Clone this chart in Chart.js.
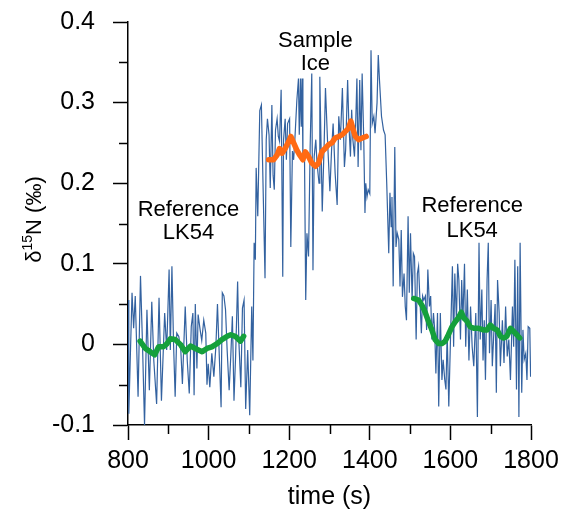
<!DOCTYPE html>
<html>
<head>
<meta charset="utf-8">
<script src="https://cdn.jsdelivr.net/npm/chart.js@4"></script>
<style>
html,body{margin:0;padding:0;background:#fff;}
canvas{display:block;}
</style>
</head>
<body>
<canvas id="c" width="562" height="515"></canvas>
<script>
// ---- data ----
const blueTime = [800,802,810,814,818,825,831,836,841,847,853,859,864,871,877,883,891,896,902,905,909,913,917,921,926,931,935,942,947,952,957,961,964,967,971,974,979,983,988,993,996,999,1003,1008,1013,1018,1022,1026,1031,1034,1038,1042,1046,1051,1055,1059,1063,1067,1072,1075,1080,1084,1088,1092,1097,1102,1107,1110,1113,1116,1118,1122,1127,1131,1135,1140,1143,1146,1150,1153,1157,1160,1163,1166,1170,1173,1176,1180,1184,1186,1190,1193,1196,1201,1204,1208,1211,1214,1219,1223,1225,1228,1230,1232,1234,1238,1241,1244,1248,1252,1256,1259,1262,1266,1269,1274,1276,1282,1287,1290,1295,1301,1305,1309,1314,1319,1323,1327,1332,1337,1340,1345,1348,1352,1355,1358,1362,1365,1368,1371,1375,1378,1381,1385,1388,1390,1393,1396,1400,1403,1406,1410,1413,1418,1421,1424,1429,1434,1438,1442,1447,1450,1453,1455,1458,1462,1465,1468,1472,1475,1478,1481,1485,1488,1491,1495,1498,1501,1505,1508,1511,1515,1518,1521,1524,1528,1531,1534,1538,1541,1544,1548,1551,1554,1558,1561,1564,1568,1571,1575,1579,1582,1586,1589,1592,1596,1601,1605,1608,1611,1615,1618,1621,1625,1628,1631,1635,1638,1642,1646,1650,1654,1658,1663,1667,1671,1674,1678,1681,1684,1687,1691,1694,1697,1701,1704,1707,1711,1714,1717,1721,1724,1729,1733,1737,1741,1745,1749,1754,1757,1760,1764,1767,1770,1773,1777,1780,1783,1787,1790,1793,1797,1799];
const blueValue = [0.055,-0.086,0.064,0.02,0.06,-0.065,0.085,0.0,-0.1,0.043,-0.057,0.053,-0.02,-0.074,0.058,-0.07,0.039,-0.007,0.093,-0.007,0.097,0.001,-0.065,0.014,0.01,-0.007,-0.049,0.047,-0.02,-0.061,0.022,0.039,-0.063,0.05,-0.03,0.037,0.018,0.005,0.03,0.014,-0.05,-0.024,-0.053,-0.011,-0.04,-0.003,0.05,-0.007,-0.078,0.064,0.06,0.043,-0.007,-0.057,-0.015,0.035,-0.07,-0.015,0.078,0.005,-0.053,0.045,0.055,-0.08,-0.007,-0.088,0.047,-0.02,0.126,0.105,0.219,0.159,0.29,0.297,0.2,0.082,0.254,0.28,0.26,0.194,0.297,0.21,0.192,0.266,0.28,0.258,0.252,0.316,0.084,0.254,0.28,0.229,0.274,0.28,0.121,0.24,0.229,0.254,0.303,0.33,0.26,0.33,0.27,0.33,0.233,0.231,0.055,0.138,0.109,0.245,0.336,0.092,0.233,0.254,0.225,0.2,0.332,0.165,0.254,0.318,0.254,0.19,0.24,0.274,0.212,0.173,0.283,0.254,0.318,0.22,0.241,0.328,0.274,0.233,0.291,0.254,0.233,0.274,0.33,0.22,0.328,0.241,0.336,0.254,0.163,0.2,0.183,0.192,0.187,0.365,0.274,0.283,0.262,0.3,0.359,0.328,0.283,0.266,0.26,0.2,0.113,0.188,0.146,0.183,0.072,0.245,0.121,0.138,0.13,0.072,0.142,0.059,0.088,0.047,0.03,0.159,0.064,0.138,0.055,0.113,0.109,0.006,0.088,0.097,0.06,0.014,0.06,0.055,0.06,0.018,0.093,0.047,0.06,0.006,0.039,0.018,-0.036,0.039,-0.077,0.039,-0.044,-0.019,-0.044,-0.056,0.014,-0.077,0.022,0.097,-0.003,0.088,0.03,0.1,0.08,0.006,0.08,0.03,0.1,-0.003,0.068,-0.02,0.047,-0.003,-0.027,0.039,-0.09,0.126,0.006,0.068,-0.02,0.03,-0.044,0.08,0.126,-0.011,0.055,-0.027,0.006,0.05,-0.06,0.08,0.039,-0.027,0.03,-0.023,0.047,-0.015,0.006,-0.044,0.047,-0.003,0.105,-0.056,0.097,-0.09,0.126,-0.06,0.018,-0.019,-0.011,-0.044,0.022,0.02,-0.04];

const refATime = [830,843,855,866,876,888,897,905,917,930,942,955,967,984,996,1008,1021,1033,1046,1055,1066,1079,1087];
const refAValue = [0.004,-0.005,-0.009,-0.013,-0.003,-0.003,0.001,0.007,0.006,0.0,-0.009,-0.002,-0.005,-0.009,-0.005,-0.003,0.001,0.006,0.01,0.012,0.01,0.004,0.01];

const sampleTime = [1149,1161,1170,1176,1182,1190,1199,1204,1211,1219,1226,1234,1240,1248,1256,1265,1273,1281,1289,1298,1306,1314,1323,1331,1339,1347,1353,1358,1364,1372,1381,1391];
const sampleValue = [0.229,0.229,0.235,0.243,0.237,0.243,0.252,0.258,0.25,0.241,0.235,0.229,0.239,0.233,0.225,0.221,0.225,0.239,0.243,0.248,0.25,0.256,0.258,0.26,0.264,0.268,0.277,0.268,0.258,0.254,0.256,0.258];

const refBTime = [1509,1521,1529,1538,1546,1554,1562,1571,1579,1587,1595,1604,1612,1620,1627,1633,1641,1649,1658,1670,1682,1691,1699,1707,1716,1724,1732,1740,1749,1757,1765,1772];
const refBValue = [0.057,0.055,0.049,0.039,0.028,0.018,0.006,0.001,0.001,0.004,0.012,0.022,0.028,0.033,0.04,0.033,0.029,0.022,0.02,0.02,0.018,0.018,0.024,0.02,0.018,0.01,0.008,0.01,0.02,0.016,0.012,0.008];

const xTicksMajor = [800,1000,1200,1400,1600,1800];
const xTicksMinor = [900,1100,1300,1500,1700];
const yTicksMinor = [-0.05,0.05,0.15,0.25,0.35];

const labels = [
  {lines:['Sample','Ice'], t:1265, v:[0.377,0.348]},
  {lines:['Reference','LK54'], t:950, v:[0.167,0.138]},
  {lines:['Reference','LK54'], t:1654, v:[0.172,0.141]}
];

const toXY = (ts, vs) => ts.map((t,i)=>({x:t, y:vs[i]}));

const FONT = '"Liberation Sans", Arial, sans-serif';

const decorPlugin = {
  id:'decor',
  afterDraw(chart){
    const ctx = chart.ctx, xs = chart.scales.x, ys = chart.scales.y, ca = chart.chartArea;
    ctx.save();
    ctx.strokeStyle = '#000'; ctx.lineWidth = 1.5;
    xTicksMinor.forEach(v=>{
      const p = Math.round(xs.getPixelForValue(v))+0.5;
      ctx.beginPath(); ctx.moveTo(p, ca.bottom); ctx.lineTo(p, ca.bottom+9); ctx.stroke();
    });
    yTicksMinor.forEach(v=>{
      const p = Math.round(ys.getPixelForValue(v))+0.5;
      ctx.beginPath(); ctx.moveTo(ca.left-9, p); ctx.lineTo(ca.left, p); ctx.stroke();
    });
    // annotations
    ctx.fillStyle = '#000';
    ctx.font = '22px ' + FONT;
    ctx.textAlign = 'center'; ctx.textBaseline = 'middle';
    labels.forEach(l=>{
      l.lines.forEach((s,i)=>{
        ctx.fillText(s, xs.getPixelForValue(l.t), ys.getPixelForValue(l.v[i]));
      });
    });
    // x title
    ctx.font = '25px ' + FONT;
    ctx.fillText('time (s)', (ca.left+ca.right)/2, 497);
    // y title with superscript
    ctx.translate(33, (ca.top+ca.bottom)/2 - 4);
    ctx.rotate(-Math.PI/2);
    const big = '22px ' + FONT, small = '14px ' + FONT;
    ctx.font = big; const w1 = ctx.measureText('\u03B4').width;
    ctx.font = small; const w2 = ctx.measureText('15').width;
    ctx.font = big; const w3 = ctx.measureText('N (\u2030)').width;
    let x = -(w1+w2+w3)/2;
    ctx.textAlign = 'left';
    ctx.textBaseline = 'alphabetic';
    ctx.font = big; ctx.fillText('\u03B4', x, 8); x += w1;
    ctx.font = small; ctx.fillText('15', x, -1); x += w2;
    ctx.font = big; ctx.fillText('N (\u2030)', x, 8);
    ctx.restore();
  }
};

function noPad(s){ s.paddingTop = 0; s.paddingBottom = 0; s.paddingLeft = 0; s.paddingRight = 0; }

new Chart(document.getElementById('c'), {
  type:'line',
  data:{
    datasets:[
      {data:toXY(sampleTime, sampleValue), borderColor:'#ff6a13', borderWidth:5.5, pointRadius:0, borderCapStyle:'round', borderJoinStyle:'round', tension:0},
      {data:toXY(refATime, refAValue), borderColor:'#15a03c', borderWidth:5.5, pointRadius:0, borderCapStyle:'round', borderJoinStyle:'round', tension:0},
      {data:toXY(refBTime, refBValue), borderColor:'#15a03c', borderWidth:5.5, pointRadius:0, borderCapStyle:'round', borderJoinStyle:'round', tension:0},
      {data:toXY(blueTime, blueValue), borderColor:'#3362a0', borderWidth:1.2, pointRadius:0, tension:0}
    ]
  },
  options:{
    responsive:false,
    animation:false,
    devicePixelRatio:1,
    layout:{padding:{top:22,right:31,left:0,bottom:0}},
    plugins:{legend:{display:false}, tooltip:{enabled:false}},
    scales:{
      x:{
        type:'linear', min:800, max:1800,
        afterBuildTicks(s){ s.ticks = xTicksMajor.map(v=>({value:v})); },
        afterFit(s){ s.height = 90; noPad(s); },
        ticks:{font:{size:25, family:FONT}, color:'#000', padding:6, maxRotation:0, autoSkip:false,
          callback:v=>String(v)},
        grid:{drawOnChartArea:false, tickLength:15, tickColor:'#000', tickWidth:1.5, color:'#000'},
        border:{color:'#000', width:1.5}
      },
      y:{
        min:-0.1, max:0.4,
        ticks:{stepSize:0.1, font:{size:25, family:FONT}, color:'#000', padding:18,
          callback:v=>String(Math.round(v*10)/10)},
        afterFit(s){ s.width = 128; noPad(s); },
        grid:{drawOnChartArea:false, tickLength:15, tickColor:'#000', tickWidth:1.5, color:'#000'},
        border:{color:'#000', width:1.5}
      }
    }
  },
  plugins:[decorPlugin]
});
</script>
</body>
</html>
